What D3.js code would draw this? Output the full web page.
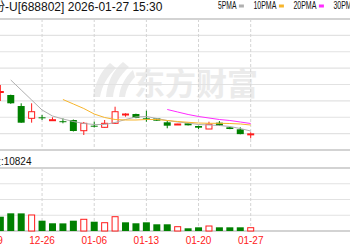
<!DOCTYPE html>
<html>
<head>
<meta charset="utf-8">
<script src="https://cdn.jsdelivr.net/npm/d3@7"></script>
<style>
  body { margin: 0; background: #fff; overflow: hidden; }
  svg { display: block; }
</style>
</head>
<body>
<div id="kline"></div>
<script>
// 交易日 (12-19 只露出标签)
const dates = ['12-19', '12-22', '12-23', '12-24', '12-25', '12-26', '12-29', '12-30', '12-31',
  '01-05', '01-06', '01-07', '01-08', '01-09', '01-12', '01-13', '01-14', '01-15', '01-16',
  '01-19', '01-20', '01-21', '01-22', '01-23', '01-26', '01-27'];
const open = [735, 677.7, 667.9, 634.3, 596.8, 599.8, 590.7, 587.9, 591.6, 558.9, 574.2, 569.3, 581.5,
  608.4, 609.9, 596.8, 596.8, 584.6, 577.0, 581.5, 573.3, 564.1, 583.4, 569.3, 563.2, 548.0];
const close = [700, 678.6, 642.6, 583.4, 616.9, 597.7, 592.5, 585.5, 558.0, 581.5, 571.8, 581.5, 616.9,
  609.9, 597.7, 594.7, 589.5, 574.2, 579.4, 575.4, 568.1, 578.5, 574.2, 564.1, 548.5, 549.3];
const high = [745, 698.5, 669.0, 642.6, 642.6, 606.9, 599.8, 596.8, 593.0, 585.5, 586.4, 591.6, 632.2,
  612.1, 611.0, 620.0, 597.5, 589.5, 580.0, 582.0, 574.0, 586.4, 588.5, 570.0, 569.3, 554.0];
const low = [690, 649.6, 641.0, 583.0, 583.4, 591.6, 590.7, 581.5, 556.5, 545.8, 568.7, 568.1, 579.4,
  601.7, 597.0, 586.4, 589.0, 566.3, 576.5, 575.0, 564.1, 564.0, 573.5, 563.5, 548.0, 535.7];
const volume = [90000, 46900, 58000, 57800, 52500, 33800, 25300, 25000, 33800, 38400, 30500, 27200, 46900,
  28500, 25300, 28500, 22000, 22000, 14100, 8900, 12100, 16400, 12100, 12100, 12100, 10824];

const ma5 = [null, null, 713.7, 683.2, 652.7, 622.1, 603.8, 594.7, 587.0, 580.9, 577.9, 577.9, 584.0,
  593.1, 600.8, 602.3, 596.2, 590.1, 585.5, 582.4, 577.9, 576.3, 574.8, 571.8, 565.6, 558.0];
const ma10 = [null, null, null, null, null, null, null, 654.2, 640.5, 626.7, 609.9, 599.2, 593.1,
  591.6, 591.6, 593.1, 593.1, 590.1, 587.0, 584.6, 582.4, 581.5, 581.5, 580.9, 579.4, 576.3];
const ma20 = [null, null, null, null, null, null, null, null, null, null, null, null, null,
  null, null, null, null, 623.7, 616.0, 608.4, 602.3, 597.7, 593.1, 590.1, 585.5, 580.9];

const tickDates = ['12-19', '12-26', '01-06', '01-13', '01-20', '01-27'];
const priceTicks = [500, 550, 600, 650, 700, 750, 800, 850, 900];
const volTicks = [0, 51660, 103320, 154980, 206640];
const maLabels = ['5PMA', '10PMA', '20PMA', '30PMA'];
const maColors = ['#b0b0b0', '#f7b52c', '#ff2bff', '#3aa0e8'];

const title = '沐曦股份-U[688802] 2026-01-27 15:30';
const volLabel = '成交量:10824';

let width = 350;
let height = 250;
let price = { top: 19, bottom: 150 };
let vol = { top: 168, bottom: 231 };
let bodyW = 7;
let up = '#ff1a1a', down = '#008000';
let font = 'Liberation Sans, Arial, Noto Sans CJK SC, sans-serif';

let svg = d3.select('#kline').append('svg')
  .attr('width', width).attr('height', height);

let xScale = d3.scalePoint().domain(dates).range([-10.1, 250.7]);
let yScale = d3.scaleLinear().domain([500, 900]).range([price.bottom, price.top]);
let vScale = d3.scaleLinear().domain([0, 206640]).range([vol.bottom, vol.top]);

// 水印
let wm = svg.append('g').attr('fill', '#ebebeb');
wm.append('path')
  .attr('d', 'M110,63 C100,72 95,84 93,97 L100,97 C102,86 107,77 116,68 Z' +
    'M123,62 C112,71 107,84 106,97 L113,97 C114,86 119,76 129,67 Z' +
    'M133,70 C124,78 120,88 119,97 L125,97 C126,90 129,83 135,77 Z');
wm.append('text')
  .attr('x', 134).attr('y', 95)
  .attr('font-size', 31).attr('font-weight', 'bold')
  .attr('font-family', 'Noto Sans CJK SC')
  .attr('letter-spacing', 0)
  .text('东方财富');

// 横向网格
let grid = svg.append('g');
grid.selectAll('.pg')
  .data(priceTicks)
  .enter()
  .append('line')
  .attr('x1', 0).attr('x2', width)
  .attr('y1', d => yScale(d)).attr('y2', d => yScale(d))
  .attr('stroke', (d, i) => (i === 0 || i === priceTicks.length - 1) ? '#c4c4c4' : '#e2e2e2')
  .attr('stroke-width', (d, i) => (i === 0 || i === priceTicks.length - 1) ? 1.5 : 1.2);
grid.selectAll('.vg')
  .data(volTicks)
  .enter()
  .append('line')
  .attr('x1', 0).attr('x2', width)
  .attr('y1', d => vScale(d)).attr('y2', d => vScale(d))
  .attr('stroke', (d, i) => (i === 0 || i === volTicks.length - 1) ? '#c4c4c4' : '#e2e2e2')
  .attr('stroke-width', (d, i) => (i === 0 || i === volTicks.length - 1) ? 1.5 : 1.2);

// 竖向虚线
tickDates.forEach(d => {
  [[price.top, price.bottom], [vol.top, vol.bottom]].forEach(r => {
    grid.append('line')
      .attr('x1', xScale(d)).attr('x2', xScale(d))
      .attr('y1', r[0]).attr('y2', r[1])
      .attr('stroke', '#d4d4d4')
      .attr('stroke-dasharray', '3,2');
  });
});

// K线
let idx = d3.range(dates.length);
let isUp = i => close[i] >= open[i];
let candles = svg.append('g').selectAll('g')
  .data(idx)
  .enter()
  .append('g');
candles.append('line')
  .attr('x1', i => xScale(dates[i])).attr('x2', i => xScale(dates[i]))
  .attr('y1', i => yScale(high[i])).attr('y2', i => yScale(low[i]))
  .attr('stroke', i => isUp(i) ? up : down);
candles.append('rect')
  .attr('x', i => xScale(dates[i]) - (isUp(i) ? bodyW / 2 - 0.5 : bodyW / 2))
  .attr('width', i => isUp(i) ? bodyW - 1 : bodyW)
  .attr('y', i => yScale(Math.max(open[i], close[i])))
  .attr('height', i => Math.max(1, Math.abs(yScale(open[i]) - yScale(close[i]))))
  .attr('fill', i => isUp(i) ? '#fff' : down)
  .attr('stroke', i => isUp(i) ? up : 'none');

// 均线
let maSeries = [ma5, ma10, ma20];
let line = d3.line()
  .defined(d => d[1] != null)
  .x(d => xScale(d[0]))
  .y(d => yScale(d[1]));
maSeries.forEach((s, k) => {
  svg.append('path')
    .datum(dates.map((d, i) => [d, s[i]]))
    .attr('d', line)
    .attr('fill', 'none')
    .attr('stroke', maColors[k])
    .attr('stroke-width', 1);
});

// 成交量
let volUp = i => i > 0 ? close[i] >= close[i - 1] : isUp(i);
svg.append('g').selectAll('rect')
  .data(idx)
  .enter()
  .append('rect')
  .attr('x', i => xScale(dates[i]) - (volUp(i) ? bodyW / 2 - 0.5 : bodyW / 2))
  .attr('width', i => volUp(i) ? bodyW - 1 : bodyW)
  .attr('y', i => vScale(volume[i]))
  .attr('height', i => vol.bottom - vScale(volume[i]))
  .attr('fill', i => volUp(i) ? '#fff' : down)
  .attr('stroke', i => volUp(i) ? up : 'none');

// 文本
svg.append('text')
  .attr('x', -43).attr('y', 10.5)
  .attr('font-size', 12).attr('font-family', font)
  .attr('fill', '#111')
  .text(title);

svg.append('text')
  .attr('x', 31.5).attr('y', 164.5)
  .attr('text-anchor', 'end')
  .attr('font-size', 10).attr('font-family', font)
  .attr('fill', '#111')
  .text(volLabel);

let lx = 218;
maLabels.forEach((name, k) => {
  let tw = name.length * 4.6;
  svg.append('text')
    .attr('x', lx).attr('y', 9)
    .attr('font-size', 10).attr('font-family', font)
    .attr('textLength', tw).attr('lengthAdjust', 'spacingAndGlyphs')
    .attr('fill', '#111')
    .text(name);
  svg.append('rect')
    .attr('x', lx + tw + 2.5).attr('y', 4.5)
    .attr('width', 5).attr('height', 3)
    .attr('fill', maColors[k]);
  lx += tw + 17;
});

svg.append('g').selectAll('text')
  .data(tickDates)
  .enter()
  .append('text')
  .attr('x', d => xScale(d))
  .attr('y', 244)
  .attr('text-anchor', 'middle')
  .attr('font-size', 10).attr('font-family', font)
  .attr('fill', '#ff2020')
  .text(d => d);
</script>
</body>
</html>
